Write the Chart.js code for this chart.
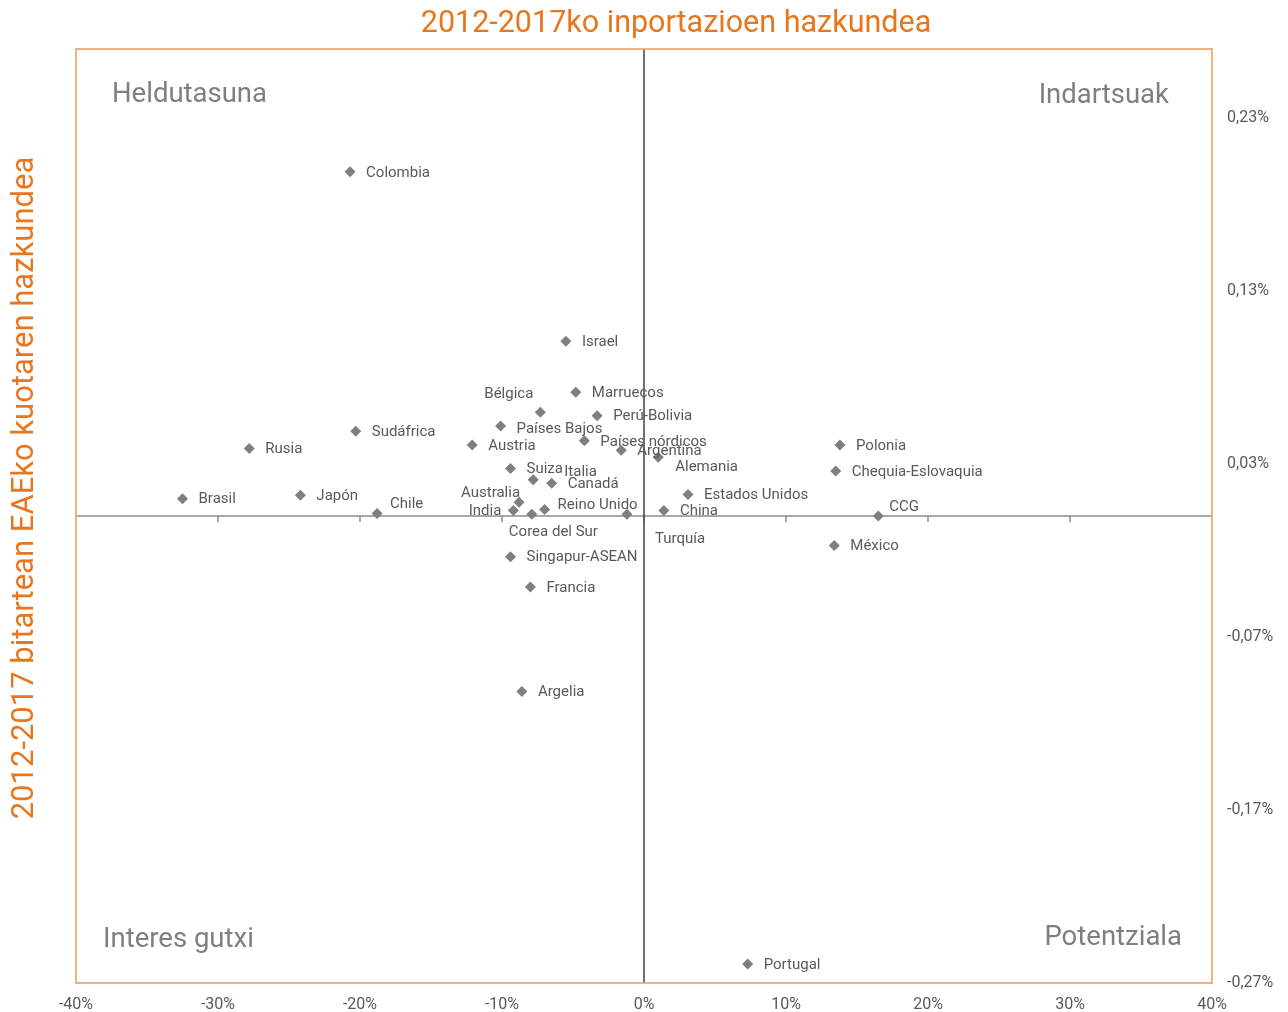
<!DOCTYPE html>
<html>
<head>
<meta charset="utf-8">
<script src="https://cdn.jsdelivr.net/npm/chart.js@4/dist/chart.umd.min.js"></script>
<style>
  html, body { margin: 0; padding: 0; background: #fff; }
  #wrap { width: 1288px; height: 1012px; position: relative; }
</style>
</head>
<body>
<div id="wrap"><canvas id="chart"></canvas></div>
<script>
// data
const countries = [
  "Colombia", "Israel", "Marruecos", "Bélgica", "Perú-Bolivia", "Países Bajos",
  "Sudáfrica", "Austria", "Países nórdicos", "Rusia", "Argentina", "Alemania",
  "Polonia", "Chequia-Eslovaquia", "Suiza", "Italia", "Canadá", "Estados Unidos",
  "Brasil", "Japón", "Chile", "Australia", "India", "Corea del Sur", "Reino Unido",
  "Turquía", "China", "CCG", "México", "Singapur-ASEAN", "Francia", "Argelia", "Portugal"
];
// 2012-2017 import growth (%)
const importGrowth = [
  -20.7, -5.5, -4.8, -7.3, -3.3, -10.1,
  -20.3, -12.1, -4.2, -27.8, -1.6, 1.0,
  13.8, 13.5, -9.4, -7.8, -6.5, 3.1,
  -32.5, -24.2, -18.8, -8.8, -9.2, -7.9, -7.0,
  -1.2, 1.4, 16.5, 13.4, -9.4, -8.0, -8.6, 7.3
];
// change of Basque Country share 2012-2017 (%)
const shareGrowth = [
  0.199, 0.101, 0.0715, 0.060, 0.058, 0.052,
  0.049, 0.041, 0.0435, 0.039, 0.038, 0.034,
  0.041, 0.026, 0.0275, 0.021, 0.019, 0.0125,
  0.010, 0.012, 0.0015, 0.008, 0.0032, 0.001, 0.0038,
  0.001, 0.0032, 0.0, -0.017, -0.0235, -0.041, -0.1015, -0.259
];
const xTicks = [-40, -30, -20, -10, 0, 10, 20, 30, 40];
const yTicks = [-0.27, -0.17, -0.07, 0.03, 0.13, 0.23];
const quadrants = ["Heldutasuna", "Indartsuak", "Interes gutxi", "Potentziala"];

const ORANGE = "#E8761E";
const GREY = "#595959";
const FONT = "Roboto, 'DejaVu Sans', sans-serif";

// label placement next to each marker (dx, dy, align)
const labelPlace = {
  "Bélgica": [-7, -19, "right"],
  "Alemania": [17, 9],
  "Italia": [31, -8],
  "Chile": [13, -10],
  "Australia": [1, -10, "right"],
  "India": [-12, 0, "right"],
  "Corea del Sur": [-23, 17],
  "Reino Unido": [13, -5],
  "Turquía": [28, 24],
  "CCG": [11, -10],
  "Países Bajos": [16, 2]
};

const pointLabels = {
  id: "pointLabels",
  afterDatasetsDraw(chart) {
    const ctx = chart.ctx;
    const meta = chart.getDatasetMeta(0);
    ctx.save();
    ctx.font = "15px " + FONT;
    ctx.fillStyle = GREY;
    ctx.textBaseline = "middle";
    meta.data.forEach((el, i) => {
      const p = labelPlace[countries[i]] || [16, 0];
      ctx.textAlign = p[2] || "left";
      ctx.fillText(countries[i], el.x + p[0], el.y + p[1] + 1);
    });
    ctx.restore();
  }
};

const frame = {
  id: "frame",
  beforeDatasetsDraw(chart) {
    const { ctx, chartArea: a, scales: { x, y } } = chart;
    const x0 = x.getPixelForValue(0);
    const y0 = y.getPixelForValue(0);
    ctx.save();
    // horizontal zero line + ticks
    ctx.strokeStyle = "#8C8C8C";
    ctx.lineWidth = 1.5;
    ctx.beginPath();
    ctx.moveTo(a.left, y0);
    ctx.lineTo(a.right, y0);
    xTicks.slice(1, -1).forEach(v => {
      const px = x.getPixelForValue(v);
      ctx.moveTo(px, y0);
      ctx.lineTo(px, y0 + 6);
    });
    ctx.stroke();
    // vertical zero line
    ctx.strokeStyle = "#404040";
    ctx.beginPath();
    ctx.moveTo(x0, a.top);
    ctx.lineTo(x0, a.bottom);
    ctx.stroke();
    // quadrant names
    ctx.font = "27.5px " + FONT;
    ctx.fillStyle = "#7F7F7F";
    ctx.textBaseline = "middle";
    ctx.textAlign = "left";
    ctx.fillText(quadrants[0], a.left + 36, a.top + 46);
    ctx.fillText(quadrants[2], a.left + 27, a.bottom - 43);
    ctx.textAlign = "right";
    ctx.fillText(quadrants[1], a.right - 43, a.top + 47);
    ctx.fillText(quadrants[3], a.right - 30, a.bottom - 45);
    ctx.restore();
  },
  afterDraw(chart) {
    const { ctx, chartArea: a } = chart;
    ctx.save();
    ctx.strokeStyle = "#EE9A5A";
    ctx.lineWidth = 1.5;
    ctx.strokeRect(a.left, a.top, a.right - a.left, a.bottom - a.top);
    // titles
    ctx.fillStyle = ORANGE;
    ctx.font = "30.5px " + FONT;
    ctx.textAlign = "center";
    ctx.textBaseline = "middle";
    ctx.fillText("2012-2017ko inportazioen hazkundea", 676, 24);
    ctx.font = "31px " + FONT;
    ctx.translate(25, 488);
    ctx.rotate(-Math.PI / 2);
    ctx.fillText("2012-2017 bitartean EAEko kuotaren hazkundea", 0, 0);
    ctx.restore();
  }
};

new Chart(document.getElementById("chart"), {
  type: "scatter",
  data: {
    datasets: [{
      data: countries.map((c, i) => ({ x: importGrowth[i], y: shareGrowth[i] })),
      pointStyle: "rectRot",
      pointRadius: 5.5,
      pointBackgroundColor: "#7F7F7F",
      pointBorderWidth: 0
    }]
  },
  options: {
    responsive: true,
    maintainAspectRatio: false,
    animation: false,
    layout: { padding: { left: 76, top: 49, right: 0, bottom: 0 } },
    plugins: { legend: { display: false }, tooltip: { enabled: false } },
    scales: {
      x: {
        type: "linear",
        position: "bottom",
        min: -40, max: 40,
        afterBuildTicks: s => { s.ticks = xTicks.map(v => ({ value: v })); },
        afterFit: s => { s.height = 29; },
        grid: { display: false, drawTicks: false },
        border: { display: false },
        ticks: {
          padding: 12,
          color: GREY,
          font: { family: FONT, size: 16 },
          callback: v => v + "%"
        }
      },
      y: {
        type: "linear",
        position: "right",
        min: -0.27, max: 0.27,
        afterBuildTicks: s => { s.ticks = yTicks.map(v => ({ value: v })); },
        afterFit: s => { s.width = 76; },
        grid: { display: false, drawTicks: false },
        border: { display: false },
        ticks: {
          padding: 15,
          color: GREY,
          font: { family: FONT, size: 16 },
          callback: v => v.toFixed(2).replace(".", ",") + "%"
        }
      }
    }
  },
  plugins: [frame, pointLabels]
});
</script>
</body>
</html>
